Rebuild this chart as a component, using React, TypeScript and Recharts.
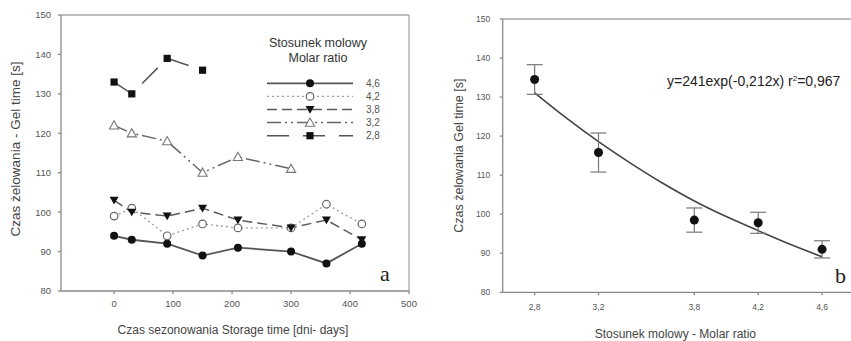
import React from 'react';
import {
  LineChart,
  Line,
  XAxis,
  YAxis,
  ReferenceLine,
  Legend,
  Label,
  ComposedChart,
  Scatter,
  ErrorBar,
} from 'recharts';

// --- panel a: gel time vs storage time ---
const storageDays = [0, 30, 90, 150, 210, 300, 360, 420];
const gel46 = [94, 93, 92, 89, 91, 90, 87, 92];
const gel42 = [99, 101, 94, 97, 96, 96, 102, 97];
const gel38 = [103, 100, 99, 101, 98, 96, 98, 93];
const gel32 = [122, 120, 118, 110, 114, 111, null, null];
const gel28 = [133, 130, 139, 136, null, null, null, null];
const dayTicks = [0, 100, 200, 300, 400, 500];
const gelTicks = [80, 90, 100, 110, 120, 130, 140, 150];

// --- panel b: gel time vs molar ratio ---
const molarRatio = [2.8, 3.2, 3.8, 4.2, 4.6];
const meanGel = [134.5, 115.8, 98.5, 97.8, 91];
const gelErr = [3.8, 5, 3.1, 2.7, 2.2];
const fitRatio = [2.8, 3.0, 3.2, 3.4, 3.6, 3.8, 4.0, 4.2, 4.4, 4.6];
const fitGel = [131.1, 124.6, 118.6, 113.1, 108.0, 103.4, 99.4, 95.8, 92.3, 89.1];
const ratioTicks = [2.8, 3.2, 3.8, 4.2, 4.6];

const FONT = '"Liberation Sans", Arial, sans-serif';
const AXIS = '#8a8a8a';
const FRAME = '#a8a8a8';

type Shape = 'circle' | 'openCircle' | 'triDown' | 'openTri' | 'square';

const series: { key: string; name: string; values: (number | null)[]; shape: Shape; dash?: string; color: string; width: number }[] = [
  { key: 'r46', name: '4,6', values: gel46, shape: 'circle', color: '#555', width: 1.8 },
  { key: 'r42', name: '4,2', values: gel42, shape: 'openCircle', dash: '2 3', color: '#a0a0a0', width: 1.4 },
  { key: 'r38', name: '3,8', values: gel38, shape: 'triDown', dash: '10 5', color: '#5a5a5a', width: 1.5 },
  { key: 'r32', name: '3,2', values: gel32, shape: 'openTri', dash: '14 4 2 4 2 4', color: '#666', width: 1.5 },
  { key: 'r28', name: '2,8', values: gel28, shape: 'square', dash: '22 14', color: '#555', width: 1.5 },
];

const storageData = storageDays.map((day, i) => {
  const row: Record<string, number | null> = { day };
  series.forEach((s) => (row[s.key] = s.values[i]));
  return row;
});

const ratioData = molarRatio.map((ratio, i) => ({ ratio, gel: meanGel[i], err: gelErr[i] }));
const fitData = fitRatio.map((ratio, i) => ({ ratio, gel: fitGel[i] }));

const drawMarker = (shape: Shape, cx: number, cy: number, key?: React.Key) => {
  switch (shape) {
    case 'circle':
      return <circle key={key} cx={cx} cy={cy} r={4} fill="#111" />;
    case 'openCircle':
      return <circle key={key} cx={cx} cy={cy} r={3.8} fill="#fff" stroke="#666" strokeWidth={1.2} />;
    case 'triDown':
      return <polygon key={key} points={`${cx - 4.5},${cy - 3.5} ${cx + 4.5},${cy - 3.5} ${cx},${cy + 4.2}`} fill="#111" />;
    case 'openTri':
      return <polygon key={key} points={`${cx},${cy - 4.6} ${cx - 4.6},${cy + 3.6} ${cx + 4.6},${cy + 3.6}`} fill="#fff" stroke="#777" strokeWidth={1.1} />;
    default:
      return <rect key={key} x={cx - 3.6} y={cy - 3.6} width={7.2} height={7.2} fill="#111" />;
  }
};

const dotFor = (shape: Shape) => (props: any) => {
  const { cx, cy, value, index } = props;
  if (cx == null || cy == null || value == null) return <g key={index} />;
  return drawMarker(shape, cx, cy, index);
};

// legend box, coordinates relative to its wrapper
const LegendBox = () => (
  <svg width={135} height={120} style={{ display: 'block', overflow: 'visible' }}>
    <text x={63} y={19} textAnchor="middle" fontSize={12.5} fill="#333" fontFamily={FONT}>Stosunek molowy</text>
    <text x={63} y={33.5} textAnchor="middle" fontSize={12.5} fill="#333" fontFamily={FONT}>Molar ratio</text>
    {series.map((s, i) => {
      const y = 55.3 + i * 13.1;
      return (
        <g key={s.key}>
          <line x1={12} x2={98} y1={y} y2={y} stroke={s.color} strokeWidth={s.width} strokeDasharray={s.dash} />
          {drawMarker(s.shape, 55, y)}
          <text x={111} y={y + 3.5} fontSize={10} fill="#555" fontFamily={FONT}>{s.name}</text>
        </g>
      );
    })}
  </svg>
);

const yTitle = (text: string, x: number, size: number, shift = 0) => (props: any) => {
  const vb = props.viewBox;
  const cy = vb.y + vb.height / 2 + shift;
  return (
    <text x={x} y={cy} transform={`rotate(-90 ${x} ${cy})`} textAnchor="middle" dominantBaseline="central" fontSize={size} fill="#444" fontFamily={FONT}>
      {text}
    </text>
  );
};

const xTitle = (text: string, y: number, size: number, shift = 0) => (props: any) => {
  const vb = props.viewBox;
  return (
    <text x={vb.x + vb.width / 2 + shift} y={y} textAnchor="middle" dominantBaseline="central" fontSize={size} fill="#444" fontFamily={FONT}>
      {text}
    </text>
  );
};

const comma = (v: number) => String(v).replace('.', ',');

export default function App() {
  return (
    <div style={{ position: 'absolute', left: 0, top: 0, width: 851, height: 341, overflow: 'hidden', background: '#fff', fontFamily: FONT }}>
      <div style={{ position: 'absolute', left: 0, top: 0 }}>
        <LineChart width={430} height={341} data={storageData} margin={{ top: 15, right: 21, bottom: 0, left: 0 }}>
          <XAxis
            dataKey="day"
            type="number"
            domain={[-90, 500]}
            ticks={dayTicks}
            tickSize={3}
            tickMargin={6}
            stroke={AXIS}
            strokeWidth={1.3}
            height={50}
            tick={{ fontSize: 9.5, fill: '#555', fontFamily: FONT }}
          >
            <Label content={xTitle('Czas sezonowania Storage time [dni- days]', 330, 12, -2)} />
          </XAxis>
          <YAxis
            type="number"
            domain={[80, 150]}
            ticks={gelTicks}
            tickSize={3}
            tickMargin={7}
            stroke={AXIS}
            strokeWidth={1.3}
            width={61}
            tick={{ fontSize: 9.5, fill: '#555', fontFamily: FONT }}
          >
            <Label content={yTitle('Czas żelowania - Gel time [s]', 15, 13.5, -4)} />
          </YAxis>
          <ReferenceLine y={150} stroke={FRAME} strokeWidth={1.3} />
          <ReferenceLine x={500} stroke={FRAME} strokeWidth={1.3} />
          {series.map((s) => (
            <Line
              key={s.key}
              dataKey={s.key}
              name={s.name}
              type="linear"
              stroke={s.color}
              strokeWidth={s.width}
              strokeDasharray={s.dash}
              dot={dotFor(s.shape)}
              activeDot={false}
              isAnimationActive={false}
            />
          ))}
          <Legend
            layout="vertical"
            align="center"
            verticalAlign="middle"
            wrapperStyle={{ left: 255, top: 28, width: 135, height: 120 }}
            content={() => <LegendBox />}
          />
        </LineChart>
      </div>

      <div style={{ position: 'absolute', left: 430, top: 0 }}>
        <ComposedChart width={430} height={341} margin={{ top: 19, right: 6, bottom: 0, left: 0 }}>
          <XAxis
            dataKey="ratio"
            type="number"
            domain={[2.6, 4.8]}
            ticks={ratioTicks}
            tickFormatter={comma}
            tickSize={3}
            tickMargin={9}
            stroke={AXIS}
            strokeWidth={1.3}
            height={48.7}
            allowDuplicatedCategory={false}
            tick={{ fontSize: 8.5, fill: '#555', fontFamily: FONT }}
          >
            <Label content={xTitle('Stosunek molowy - Molar ratio', 334, 12, -3)} />
          </XAxis>
          <YAxis
            type="number"
            domain={[80, 150]}
            ticks={gelTicks}
            tickSize={3}
            tickMargin={9.5}
            stroke={AXIS}
            strokeWidth={1.3}
            width={72.7}
            tick={{ fontSize: 8.5, fill: '#555', fontFamily: FONT }}
          >
            <Label content={yTitle('Czas żelowania Gel time [s]', 29, 12.5)} />
          </YAxis>
          <ReferenceLine y={150} stroke={FRAME} strokeWidth={1.3} />
          <Line
            data={fitData}
            dataKey="gel"
            type="monotone"
            stroke="#444"
            strokeWidth={1.6}
            dot={false}
            activeDot={false}
            isAnimationActive={false}
          />
          <Scatter
            data={ratioData}
            dataKey="gel"
            fill="#111"
            shape={(p: any) => <circle cx={p.cx} cy={p.cy} r={4.5} fill="#111" />}
            isAnimationActive={false}
          >
            <ErrorBar dataKey="err" direction="y" width={8} stroke="#777" strokeWidth={1.2} />
          </Scatter>
        </ComposedChart>
      </div>

      <svg width={851} height={341} style={{ position: 'absolute', left: 0, top: 0, pointerEvents: 'none' }}>
        <text x={380} y={280.5} fontSize={22} fontFamily='"Liberation Serif", "Times New Roman", serif' fill="#222">a</text>
        <text x={835} y={283} fontSize={22} fontFamily='"Liberation Serif", "Times New Roman", serif' fill="#222">b</text>
        <text x={667} y={86} fontSize={14} fontFamily={FONT} fill="#222">
          y=241exp(-0,212x) r<tspan dy={-5} fontSize={8}>2</tspan>
          <tspan dy={5}>=0,967</tspan>
        </text>
      </svg>
    </div>
  );
}
